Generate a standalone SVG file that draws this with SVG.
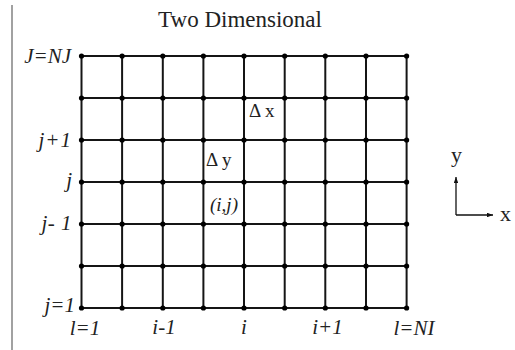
<svg xmlns="http://www.w3.org/2000/svg" width="515" height="350" viewBox="0 0 515 350">
<defs>
<style>
.t{font-family:'Liberation Serif','Times New Roman','DejaVu Serif',serif;fill:#222}
.lab{font-style:italic;font-size:21px}
.grid line{stroke:#151515;stroke-width:2}
.dots circle{fill:#000}
.ax{stroke:#111;stroke-width:1.3;fill:none}
</style>
<marker id="ah" viewBox="0 0 8 6" refX="8" refY="3" markerWidth="6" markerHeight="4.5" orient="auto" markerUnits="userSpaceOnUse">
<path d="M0,0 L8,3 L0,6 Z" fill="#111"/>
</marker>
</defs>
<rect width="515" height="350" fill="#fff"/>
<line x1="12" y1="5" x2="12" y2="350" stroke="#8a8a8a" stroke-width="1.6"/>
<text class="t" x="240" y="27" font-size="23" text-anchor="middle">Two Dimensional</text>
<g id="grid" class="grid">
<line x1="81.5" y1="56" x2="406.6" y2="56"/>
<line x1="81.5" y1="98" x2="406.6" y2="98"/>
<line x1="81.5" y1="140" x2="406.6" y2="140"/>
<line x1="81.5" y1="182" x2="406.6" y2="182"/>
<line x1="81.5" y1="224" x2="406.6" y2="224"/>
<line x1="81.5" y1="266" x2="406.6" y2="266"/>
<line x1="81.5" y1="308" x2="406.6" y2="308"/>
<line x1="81.5" y1="56" x2="81.5" y2="308"/>
<line x1="122.1" y1="56" x2="122.1" y2="308"/>
<line x1="162.8" y1="56" x2="162.8" y2="308"/>
<line x1="203.4" y1="56" x2="203.4" y2="308"/>
<line x1="244" y1="56" x2="244" y2="308"/>
<line x1="284.7" y1="56" x2="284.7" y2="308"/>
<line x1="325.3" y1="56" x2="325.3" y2="308"/>
<line x1="366" y1="56" x2="366" y2="308"/>
<line x1="406.6" y1="56" x2="406.6" y2="308"/>
</g>
<g id="nodes" class="dots">
<g id="row-56"><circle cx="81.5" cy="56" r="2.6"/><circle cx="122.1" cy="56" r="2.6"/><circle cx="162.8" cy="56" r="2.6"/><circle cx="203.4" cy="56" r="2.6"/><circle cx="244" cy="56" r="2.6"/><circle cx="284.7" cy="56" r="2.6"/><circle cx="325.3" cy="56" r="2.6"/><circle cx="366" cy="56" r="2.6"/><circle cx="406.6" cy="56" r="2.6"/></g>
<g id="row-98"><circle cx="81.5" cy="98" r="2.6"/><circle cx="122.1" cy="98" r="2.6"/><circle cx="162.8" cy="98" r="2.6"/><circle cx="203.4" cy="98" r="2.6"/><circle cx="244" cy="98" r="2.6"/><circle cx="284.7" cy="98" r="2.6"/><circle cx="325.3" cy="98" r="2.6"/><circle cx="366" cy="98" r="2.6"/><circle cx="406.6" cy="98" r="2.6"/></g>
<g id="row-140"><circle cx="81.5" cy="140" r="2.6"/><circle cx="122.1" cy="140" r="2.6"/><circle cx="162.8" cy="140" r="2.6"/><circle cx="203.4" cy="140" r="2.6"/><circle cx="244" cy="140" r="2.6"/><circle cx="284.7" cy="140" r="2.6"/><circle cx="325.3" cy="140" r="2.6"/><circle cx="366" cy="140" r="2.6"/><circle cx="406.6" cy="140" r="2.6"/></g>
<g id="row-182"><circle cx="81.5" cy="182" r="2.6"/><circle cx="122.1" cy="182" r="2.6"/><circle cx="162.8" cy="182" r="2.6"/><circle cx="203.4" cy="182" r="2.6"/><circle cx="244" cy="182" r="2.6"/><circle cx="284.7" cy="182" r="2.6"/><circle cx="325.3" cy="182" r="2.6"/><circle cx="366" cy="182" r="2.6"/><circle cx="406.6" cy="182" r="2.6"/></g>
<g id="row-224"><circle cx="81.5" cy="224" r="2.6"/><circle cx="122.1" cy="224" r="2.6"/><circle cx="162.8" cy="224" r="2.6"/><circle cx="203.4" cy="224" r="2.6"/><circle cx="244" cy="224" r="2.6"/><circle cx="284.7" cy="224" r="2.6"/><circle cx="325.3" cy="224" r="2.6"/><circle cx="366" cy="224" r="2.6"/><circle cx="406.6" cy="224" r="2.6"/></g>
<g id="row-266"><circle cx="81.5" cy="266" r="2.6"/><circle cx="122.1" cy="266" r="2.6"/><circle cx="162.8" cy="266" r="2.6"/><circle cx="203.4" cy="266" r="2.6"/><circle cx="244" cy="266" r="2.6"/><circle cx="284.7" cy="266" r="2.6"/><circle cx="325.3" cy="266" r="2.6"/><circle cx="366" cy="266" r="2.6"/><circle cx="406.6" cy="266" r="2.6"/></g>
<g id="row-308"><circle cx="81.5" cy="308" r="2.6"/><circle cx="122.1" cy="308" r="2.6"/><circle cx="162.8" cy="308" r="2.6"/><circle cx="203.4" cy="308" r="2.6"/><circle cx="244" cy="308" r="2.6"/><circle cx="284.7" cy="308" r="2.6"/><circle cx="325.3" cy="308" r="2.6"/><circle cx="366" cy="308" r="2.6"/><circle cx="406.6" cy="308" r="2.6"/></g>
</g>
<g id="row-labels" class="t lab" text-anchor="end">
<text x="71" y="63">J=NJ</text>
<text x="72" y="147" letter-spacing="1">j+1</text>
<text x="72" y="187">j</text>
<text x="72" y="230" letter-spacing="0.5">j- 1</text>
<text x="75" y="312">j=1</text>
</g>
<g id="col-labels" class="t lab" text-anchor="middle">
<text x="85" y="335">l=1</text>
<text x="164" y="334">i-1</text>
<text x="244" y="334">i</text>
<text x="327.5" y="334">i+1</text>
<text x="414" y="335">l=NI</text>
</g>
<g id="cell-labels" class="t" font-size="19">
<text x="249" y="117">Δ x</text>
<text x="206" y="166">Δ y</text>
<text x="210" y="211" font-style="italic">(i,j)</text>
</g>
<g id="axes">
<path class="ax" d="M456,215 L456,177" marker-end="url(#ah)"/>
<path class="ax" d="M456,215 L493,215" marker-end="url(#ah)"/>
<text class="t" x="456.5" y="162" font-size="22" text-anchor="middle">y</text>
<text class="t" x="505.5" y="221" font-size="22" text-anchor="middle">x</text>
</g>
</svg>
